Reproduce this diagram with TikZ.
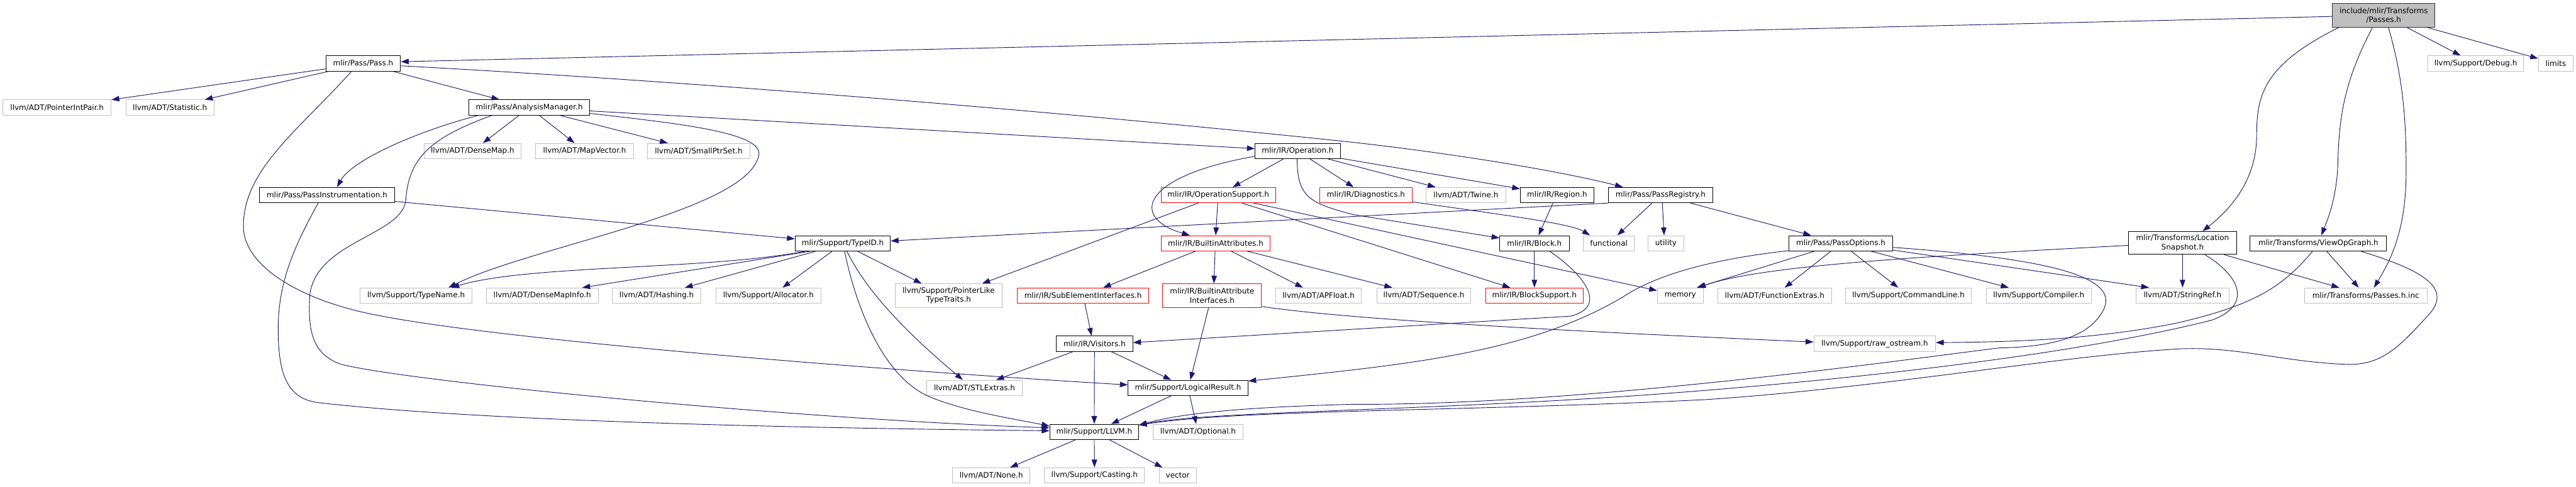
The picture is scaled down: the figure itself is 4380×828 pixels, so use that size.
\documentclass[tikz,border=0pt]{standalone}
\usepackage{fontspec}
\setmainfont{DejaVu Sans}
\usetikzlibrary{arrows.meta,calc}
\definecolor{edgecol}{HTML}{191970}
\definecolor{extgray}{HTML}{BFBFBF}
\definecolor{rootfill}{HTML}{BFBFBF}
\begin{document}
\begin{tikzpicture}[x=0.75pt,y=-0.75pt,
  every node/.style={font=\fontsize{9.6}{11.5}\selectfont, inner sep=0pt, align=center, minimum height=26*0.75pt},
  w/.style={minimum width=#1*0.75pt},
  h/.style={minimum height=#1*0.75pt},
  intn/.style={draw=black, line width=0.8pt, fill=white},
  ext/.style={draw=extgray, line width=0.8pt, fill=white},
  trunc/.style={draw=red, line width=0.8pt, fill=white},
  rootn/.style={draw=black!80, line width=0.8pt, fill=rootfill},
  dep/.style={draw=edgecol, line width=0.75pt, -{Triangle[length=10pt,width=7pt]}}]
\fill[white] (0,0) rectangle (4380,828);
\useasboundingbox (0,0) rectangle (4380,828);

% nodes
\node[rootn,w=174,h=40] (root) at (4053,26) {include/mlir/Transforms\\/Passes.h};
\node[intn,w=127] (pass) at (617.5,108) {mlir/Pass/Pass.h};
\node[ext,w=163] (debug) at (4209.5,108) {llvm/Support/Debug.h};
\node[ext,w=59] (limits) at (4345.5,108) {limits};
\node[ext,w=184] (pip) at (97,183) {llvm/ADT/PointerIntPair.h};
\node[ext,w=150] (stat) at (289,183) {llvm/ADT/Statistic.h};
\node[intn,w=206] (am) at (900,183) {mlir/Pass/AnalysisManager.h};
\node[ext,w=165] (densemap) at (803.5,257) {llvm/ADT/DenseMap.h};
\node[ext,w=166] (mapvec) at (994,257) {llvm/ADT/MapVector.h};
\node[ext,w=174] (smallptr) at (1188,257) {llvm/ADT/SmallPtrSet.h};
\node[intn,w=145] (op) at (2206.5,257) {mlir/IR/Operation.h};
\node[intn,w=230] (pinst) at (556,332) {mlir/Pass/PassInstrumentation.h};
\node[trunc,w=195] (opsup) at (2071.5,332) {mlir/IR/OperationSupport.h};
\node[trunc,w=157] (diag) at (2322.5,332) {mlir/IR/Diagnostics.h};
\node[ext,w=135] (twine) at (2492.5,332) {llvm/ADT/Twine.h};
\node[intn,w=125] (region) at (2647.5,332) {mlir/IR/Region.h};
\node[intn,w=177] (preg) at (2823.5,332) {mlir/Pass/PassRegistry.h};
\node[intn,w=162] (typeid) at (1433,414) {mlir/Support/TypeID.h};
\node[trunc,w=186] (battr) at (2067,414) {mlir/IR/BuiltinAttributes.h};
\node[intn,w=118] (block) at (2609,414) {mlir/IR/Block.h};
\node[ext,w=87] (functional) at (2735.5,414) {functional};
\node[ext,w=61] (utility) at (2832.5,414) {utility};
\node[intn,w=176] (popt) at (3130,414) {mlir/Pass/PassOptions.h};
\node[intn,w=184,h=39] (locsnap) at (3711,413.5) {mlir/Transforms/Location\\Snapshot.h};
\node[intn,w=232] (viewop) at (3942,414) {mlir/Transforms/ViewOpGraph.h};
\node[ext,w=191] (typename) at (707.5,503) {llvm/Support/TypeName.h};
\node[ext,w=190] (dmi) at (922,503) {llvm/ADT/DenseMapInfo.h};
\node[ext,w=151] (hashing) at (1116.5,503) {llvm/ADT/Hashing.h};
\node[ext,w=179] (alloc) at (1306.5,503) {llvm/Support/Allocator.h};
\node[ext,w=182,h=40] (plt) at (1613,503) {llvm/Support/PointerLike\\TypeTraits.h};
\node[trunc,w=223] (subel) at (1841.5,503) {mlir/IR/SubElementInterfaces.h};
\node[trunc,w=168,h=40] (bai) at (2061,503) {mlir/IR/BuiltinAttribute\\Interfaces.h};
\node[ext,w=146] (apfloat) at (2242,503) {llvm/ADT/APFloat.h};
\node[ext,w=160] (seq) at (2421,503) {llvm/ADT/Sequence.h};
\node[trunc,w=166] (bsup) at (2609,503) {mlir/IR/BlockSupport.h};
\node[ext,w=78] (memory) at (2857,503) {memory};
\node[ext,w=193] (funcext) at (3017.5,503) {llvm/ADT/FunctionExtras.h};
\node[ext,w=214] (cmdline) at (3245,503) {llvm/Support/CommandLine.h};
\node[ext,w=179] (compiler) at (3466.5,503) {llvm/Support/Compiler.h};
\node[ext,w=158] (strref) at (3711,503) {llvm/ADT/StringRef.h};
\node[ext,w=209] (pinc) at (4022.5,503) {mlir/Transforms/Passes.h.inc};
\node[intn,w=130] (visitors) at (1861,585) {mlir/IR/Visitors.h};
\node[ext,w=207] (rawos) at (3187.5,585) {llvm/Support/raw\_ostream.h};
\node[ext,w=162] (stl) at (1657,660) {llvm/ADT/STLExtras.h};
\node[intn,w=204] (logres) at (2020,660) {mlir/Support/LogicalResult.h};
\node[intn,w=151] (llvm) at (1860.5,735) {mlir/Support/LLVM.h};
\node[ext,w=152] (optional) at (2037,735) {llvm/ADT/Optional.h};
\node[ext,w=131] (none) at (1685.5,809) {llvm/ADT/None.h};
\node[ext,w=170] (casting) at (1861,809) {llvm/Support/Casting.h};
\node[ext,w=63] (vector) at (2002.5,809) {vector};

% root edges
\draw[dep] ($(root.west)+(0,2)$) -- ($(pass.east)+(0,-3)$);
\draw[dep] ($(root.south)+(-76,0)$) .. controls (3850,110) and (3837,160) .. (3837,230) .. controls (3837,300) and (3800,350) .. ($(locsnap.north)+(34,0)$);
\draw[dep] ($(root.south)+(-19,0)$) .. controls (3985,140) and (3977,200) .. (3975,280) .. controls (3973,340) and (3955,380) .. ($(viewop.north)+(5,0)$);
\draw[dep] ($(root.south)+(8,0)$) .. controls (4085,130) and (4092,200) .. (4091,300) .. controls (4090,400) and (4060,450) .. ($(pinc.north)+(14,0)$);
\draw[dep] (root) -- (debug);
\draw[dep] (root) -- (limits);

% Pass.h
\draw[dep] (pass) -- (pip);
\draw[dep] (pass) -- (stat);
\draw[dep] (pass) -- (am);
\draw[dep] ($(pass.south)+(-20,0)$) .. controls (510,220) and (410,290) .. (414,390) .. controls (418,450) and (500,505) .. (620,532) .. controls (820,577) and (1500,630) .. ($(logres.west)+(0,-5)$);
\draw[dep] ($(pass.east)+(0,4)$) .. controls (1200,140) and (1800,190) .. (2280,240) .. controls (2450,258) and (2650,290) .. ($(preg.north)+(-64,0)$);

% AnalysisManager.h
\draw[dep] (am) -- (densemap);
\draw[dep] (am) -- (mapvec);
\draw[dep] (am) -- (smallptr);
\draw[dep] ($(am.south)+(-87,0)$) .. controls (720,220) and (600,270) .. ($(pinst.north)+(17,0)$);
\draw[dep] ($(am.south)+(-64,0)$) .. controls (730,235) and (695,270) .. (690,340) .. controls (685,400) and (540,410) .. (527,500) .. controls (522,570) and (535,604) .. (580,620) .. controls (700,650) and (1350,713) .. ($(llvm.west)+(0,-7)$);
\draw[dep] (am) -- (op);
\draw[dep] ($(am.east)+(0,10)$) .. controls (1150,210) and (1300,225) .. (1290,265) .. controls (1270,360) and (900,420) .. ($(typename.north)+(55,0)$);

% PassInstrumentation.h
\draw[dep] (pinst) -- (typeid);
\draw[dep] ($(pinst.south)+(-15,0)$) .. controls (500,420) and (473,480) .. (473,560) .. controls (473,640) and (490,678) .. (540,685) .. controls (800,715) and (1300,728) .. ($(llvm.west)+(0,-2)$);

% TypeID.h
\draw[dep] ($(typeid.south)+(-64,0)$) .. controls (1200,460) and (900,450) .. ($(typename.north)+(60,0)$);
\draw[dep] ($(typeid.south)+(-55,0)$) -- ($(dmi.north)+(68,0)$);
\draw[dep] ($(typeid.south)+(-46,0)$) -- ($(hashing.north)+(48,0)$);
\draw[dep] ($(typeid.south)+(-18,0)$) -- ($(alloc.north)+(24,0)$);
\draw[dep] ($(typeid.south)+(25,0)$) -- ($(plt.north)+(-46,0)$);
\draw[dep] ($(typeid.south)+(7,0)$) .. controls (1480,510) and (1570,590) .. ($(stl.north)+(-20,0)$);
\draw[dep] ($(typeid.south)+(3,0)$) .. controls (1455,520) and (1500,640) .. (1580,675) .. controls (1640,700) and (1720,712) .. ($(llvm.west)+(0,-10)$);

% Operation.h
\draw[dep] ($(op.west)+(0,9)$) .. controls (1940,300) and (1920,370) .. ($(battr.north)+(-44,0)$);
\draw[dep] (op) -- (opsup);
\draw[dep] (op) -- (diag);
\draw[dep] (op) -- (twine);
\draw[dep] (op) -- (region);
\draw[dep] ($(op.south)+(-1,0)$) .. controls (2206,335) and (2225,345) .. (2300,365) -- ($(block.west)+(0,-9)$);

% OperationSupport.h
\draw[dep] ($(opsup.south)+(-1,0)$) -- (battr.north);
\draw[dep] ($(opsup.south)+(-34,0)$) -- ($(plt.north)+(57,0)$);
\draw[dep] ($(opsup.south)+(40,0)$) -- ($(bsup.north)+(-41,0)$);
\draw[dep] ($(opsup.south)+(60,0)$) -- ($(memory.north west)+(0,5)$);

% Diagnostics.h, Region.h
\draw[dep] ($(diag.south east)+(0,-2)$) .. controls (2550,365) and (2670,380) .. ($(functional.north)+(-32,0)$);
\draw[dep] ($(region.south)+(-7,0)$) -- ($(block.north)+(7,0)$);

% PassRegistry.h
\draw[dep] (preg.south west) -- ($(typeid.east)+(0,-4)$);
\draw[dep] (preg) -- (functional);
\draw[dep] ($(preg.south)+(3,0)$) -- ($(utility.north)+(-3,0)$);
\draw[dep] (preg) -- (popt);

% Block.h
\draw[dep] (block) -- (bsup);
\draw[dep] ($(block.south)+(26,0)$) .. controls (2710,480) and (2725,525) .. (2670,538) -- ($(visitors.east)+(0,-2)$);

% BuiltinAttributes.h
\draw[dep] (battr) -- (subel);
\draw[dep] ($(battr.south)+(-1,0)$) -- ($(bai.north)+(3,0)$);
\draw[dep] (battr) -- (apfloat);
\draw[dep] (battr) -- (seq);

\draw[dep] ($(subel.south)+(3,0)$) -- ($(visitors.north)+(-5,0)$);
\draw[dep] ($(bai.south)+(-6,0)$) -- ($(logres.north)+(4,0)$);
\draw[dep] ($(bai.south east)+(0,-2)$) .. controls (2300,545) and (2700,565) .. ($(rawos.west)+(0,-3)$);

% Visitors, LogicalResult, LLVM
\draw[dep] (visitors) -- (stl);
\draw[dep] (visitors) -- (logres);
\draw[dep] (visitors) -- (llvm);
\draw[dep] (logres) -- (llvm);
\draw[dep] (logres) -- (optional);
\draw[dep] (llvm) -- (none);
\draw[dep] (llvm) -- (casting);
\draw[dep] (llvm) -- (vector);

% PassOptions.h
\draw[dep] ($(popt.south west)+(0,-1)$) .. controls (2920,440) and (2820,465) .. (2760,505) .. controls (2600,600) and (2400,620) .. ($(logres.north east)+(0,2)$);
\draw[dep] ($(popt.south)+(-45,0)$) -- ($(memory.north)+(28,0)$);
\draw[dep] (popt) -- (funcext);
\draw[dep] (popt) -- (cmdline);
\draw[dep] (popt) -- (compiler);
\draw[dep] ($(popt.south east)+(0,-2)$) -- ($(strref.north)+(-57,0)$);
\draw[dep] ($(popt.east)+(0,7)$) .. controls (3480,440) and (3610,470) .. (3575,530) .. controls (3555,565) and (3510,590) .. (3400,592) .. controls (3250,610) and (2700,690) .. (2300,688) .. controls (2150,692) and (2020,700) .. ($(llvm.north east)+(0,2)$);

% LocationSnapshot.h
\draw[dep] ($(locsnap.west)+(0,4)$) .. controls (3300,435) and (3000,450) .. ($(memory.north)+(30,0)$);
\draw[dep] (locsnap.south) -- (strref.north);
\draw[dep] ($(locsnap.south)+(71,0)$) -- ($(pinc.north)+(-45,0)$);
\draw[dep] ($(locsnap.south)+(38,0)$) .. controls (3810,470) and (3830,520) .. (3760,545) .. controls (3500,610) and (3100,650) .. (2800,672) .. controls (2400,700) and (2050,700) .. ($(llvm.north east)+(0,2)$);

% ViewOpGraph.h
\draw[dep] ($(viewop.south)+(-10,0)$) .. controls (3880,490) and (3830,520) .. (3700,550) .. controls (3550,580) and (3400,582) .. ($(rawos.east)+(0,-2)$);
\draw[dep] ($(viewop.south)+(14,0)$) -- ($(pinc.north)+(-12,0)$);
\draw[dep] ($(viewop.south)+(72,0)$) .. controls (4120,460) and (4170,490) .. (4130,535) .. controls (4080,590) and (4050,622) .. (3990,620) .. controls (3880,616) and (3800,588) .. (3700,594) .. controls (3500,606) and (3200,660) .. (2900,680) .. controls (2500,700) and (2100,697) .. ($(llvm.north east)+(0,2)$);
\end{tikzpicture}
\end{document}
